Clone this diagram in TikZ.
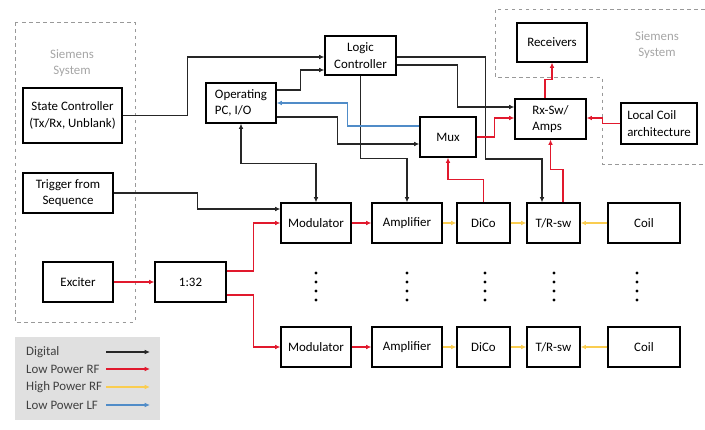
\documentclass[tikz,border=0pt]{standalone}
\usepackage{fontspec}
\setmainfont{Carlito}
\usetikzlibrary{arrows.meta}
\definecolor{lprfred}{RGB}{225,25,45}
\definecolor{hprfyel}{RGB}{250,205,80}
\definecolor{lplfblue}{RGB}{80,140,200}
\begin{document}
\begin{tikzpicture}[x=0.03cm, y=-0.03cm,
    every node/.style={font=\fontsize{11}{14}\selectfont},
    n/.style={draw, line width=1pt, minimum width=2.1cm, minimum height=1.2cm, align=center, inner sep=1pt},
    sietxt/.style={text=black!35, align=center},
    legtxt/.style={text=black!75, anchor=west, inner sep=0pt},
    sieb/.style={draw=black!40, dashed, line width=0.7pt},
    dig/.style={color=black!85, line width=1pt, -{Latex[length=4.5pt,width=4pt]}},
    digboth/.style={dig, {Latex[length=4.5pt,width=4pt]}-{Latex[length=4.5pt,width=4pt]}},
    lprf/.style={color=lprfred, line width=1.2pt, -{Latex[length=4.5pt,width=4pt]}},
    hprf/.style={color=hprfyel, line width=1.2pt, -{Latex[length=4.5pt,width=4pt]}},
    lplf/.style={color=lplfblue, line width=1.2pt, -{Latex[length=4.5pt,width=4pt]}}]
    \useasboundingbox (0,0) rectangle (705,430);

    % Siemens parts
    \draw[sieb] (15,22) rectangle (135,322);
    \draw[sieb] (705,9) -- (495,9) -- (495,77) -- (602,77) -- (602,164) -- (705,164);
    \node[sietxt] (sie1) at (72,63) {Siemens\\System};
    \node[sietxt] (sie2) at (657,45) {Siemens\\System};

    \node[n, minimum width=2.97cm, minimum height=1.65cm] (sc) at (72.5,115.5) {State Controller\\(Tx/Rx, Unblank)};
    \node[n, minimum width=2.7cm] (tr) at (68,193) {Trigger from\\Sequence};
    \node[n] (ex) at (78,282) {Exciter};
    \node[n, minimum width=2.13cm] (sp) at (190.5,282) {1:32};

    \node[n, minimum width=2.13cm, minimum height=1.17cm] (lc) at (360.5,55.5) {Logic\\Controller};
    \node[n, align=left] (op) at (241,103) {Operating\\PC, I/O};
    \node[n, minimum width=1.68cm] (mux) at (448,137) {Mux};
    \node[n, minimum width=2.13cm, align=left] (rx) at (550.5,119) {Rx-Sw/\\Amps};
    \node[n, minimum height=1.17cm] (rcv) at (552,42.5) {Receivers};
    \node[n, minimum width=2.28cm, minimum height=1.23cm, align=left] (lca) at (659,123.5) {Local Coil\\architecture};

    \node[n] (mod1) at (316,223) {Modulator};
    \node[n] (amp1) at (407,223) {Amplifier};
    \node[n, minimum width=1.59cm] (dc1) at (483.5,223) {DiCo};
    \node[n, minimum width=1.59cm] (trs1) at (553.5,223) {T/R-sw};
    \node[n, minimum width=2.16cm] (coil1) at (644,223) {Coil};

    \node[n] (mod2) at (316,347) {Modulator};
    \node[n] (amp2) at (407,347) {Amplifier};
    \node[n, minimum width=1.59cm] (dc2) at (483.5,347) {DiCo};
    \node[n, minimum width=1.59cm] (trs2) at (553.5,347) {T/R-sw};
    \node[n, minimum width=2.16cm] (coil2) at (644,347) {Coil};

    \foreach \x in {316,407,485,554,637}
        \foreach \y in {273,282,291,300}
            \fill (\x,\y) circle (1.6);

    % digital
    \draw[dig] (sc.east) -- ++(65,0) |- ([yshift=-0.045cm]lc.west);
    \draw[dig] ([yshift=0.39cm]op.east) -- ++(24,0) |- ([yshift=-0.435cm]lc.west);
    \draw[dig] ([yshift=-0.42cm]op.east) -- ++(61,0) |- ([yshift=-0.21cm]mux.west);
    \draw[digboth] (op.south) -- ++(0,40) -| (mod1.north);
    \draw[dig] (tr.east) -- ++(84,0) |- ([yshift=0.42cm]mod1.west);
    \draw[dig] (lc.south) -- ++(0,83) -| (amp1.north);
    \draw[dig] ([yshift=-0.045cm]lc.east) -- ++(89,0) -- ++(0,102) -| ([xshift=-0.345cm]trs1.north);
    \draw[dig] ([yshift=-0.285cm]lc.east) -- ++(61,0) |- ([yshift=0.36cm]rx.west);

    % low power RF
    \draw[lprf] (ex.east) -- (sp.west);
    \draw[lprf] ([yshift=0.33cm]sp.east) -- ++(27,0) |- (mod1.west);
    \draw[lprf] ([yshift=-0.39cm]sp.east) -- ++(27,0) |- (mod2.west);
    \draw[lprf] (mod1.east) -- (amp1.west);
    \draw[lprf] (mod2.east) -- (amp2.west);
    \draw[lprf] (dc1.north) -- ++(0,-23) -| (mux.south);
    \draw[lprf] ([xshift=0.285cm]trs1.north) -- ++(0,-33) -| (rx.south);
    \draw[lprf] (mux.east) -- ++(18,0) |- ([yshift=0.03cm]rx.west);
    \draw[lprf] (lca.west) -- ++(-18,0) |- ([yshift=0.03cm]rx.east);
    \draw[lprf] ([xshift=-0.165cm]rx.north) -- ++(0,-19) -| (rcv.south);

    % low power LF
    \draw[lplf] ([yshift=0.33cm]mux.west) -- ++(-72,0) |- (op.east);

    % high power RF
    \draw[hprf] (amp1.east) -- (dc1.west);
    \draw[hprf] (dc1.east) -- (trs1.west);
    \draw[hprf] (coil1.west) -- (trs1.east);
    \draw[hprf] (amp2.east) -- (dc2.west);
    \draw[hprf] (dc2.east) -- (trs2.west);
    \draw[hprf] (coil2.west) -- (trs2.east);

    % legend
    \fill[black!12] (15,337) rectangle (160,420);
    \foreach \t/\s/\y [count=\i] in {Digital/dig/352, Low Power RF/lprf/369, High Power RF/hprf/387, Low Power LF/lplf/405} {
        \node[legtxt] (leg\i) at (26,\y) {\t};
        \coordinate (legs\i) at (106,\y);
        \coordinate (lege\i) at (150,\y);
        \draw[\s] (legs\i) -- (lege\i);
    }
\end{tikzpicture}
\end{document}
